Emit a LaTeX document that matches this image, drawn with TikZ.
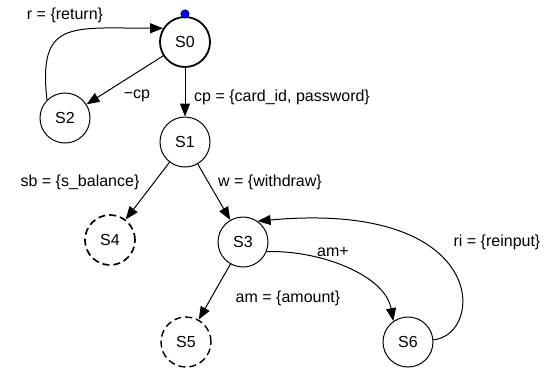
\documentclass[tikz,border=0pt]{standalone}
\usepackage{fontspec}
\setmainfont{Liberation Sans}
\usetikzlibrary{arrows.meta,positioning}

\tikzset{
  state/.style={draw, circle, minimum size=50pt, inner sep=0pt, line width=1pt},
  startstate/.style={state, line width=1.8pt},
  endstate/.style={state, dashed, dash pattern=on 7pt off 4pt, line width=1.7pt},
  edgelabel/.style={inner sep=1pt},
  trans/.style={->, line width=1pt}
}

\begin{document}
\begin{tikzpicture}[x=1pt, y=-1pt, on grid,
  >={Triangle[length=13pt,width=10pt]},
  font=\fontsize{16}{18}\selectfont]
\useasboundingbox (0,0) rectangle (550,368);

\node (S0)[startstate] at (185,42) {S0};
\node (S1)[state] [below=100pt of S0] {S1};
\node (S2)[state] [below left=76pt and 120pt of S0] {S2};
\node (S4)[endstate] [below left=98pt and 75pt of S1] {S4};
\node (S3)[state] [below right=100pt and 58pt of S1] {S3};
\node (S5)[endstate, line width=1.4pt] [below left=100pt and 57pt of S3] {S5};
\node (S6)[state] [below right=100pt and 165pt of S3] {S6};
\node (init)[circle, fill=blue, draw=blue!40!black, line width=1pt, minimum size=8pt, inner sep=0pt] [above=28pt of S0] {};

% transitions
\draw[trans] (S0) -- (S2);
\draw[trans] (S0) -- (S1);
\draw[trans] (S1) -- (S4);
\draw[trans] (S1) -- (S3);
\draw[trans] (S3) -- (S5);
\draw[trans] (S2.135) .. controls (38,20) and (70,28) .. (S0.148);
\draw[trans] (S3.-22) .. controls (320,250) and (385,275) .. (S6.125);
\draw[trans] (S6.5) .. controls (485,335) and (490,200) .. (S3.55);

% labels
\node (lr)[edgelabel] at (65,15) {r = \{return\}};
\node (lncp)[edgelabel] at (137,96) {−cp};
\node (lcp)[edgelabel, anchor=west] at (193,97) {cp = \{card\_id, password\}};
\node (lsb)[edgelabel] at (80,182) {sb = \{s\_balance\}};
\node (lw)[edgelabel] at (270,182) {w = \{withdraw\}};
\node (lamp)[edgelabel] at (333,252) {am+};
\node (lam)[edgelabel] at (288,298) {am = \{amount\}};
\node (lri)[edgelabel] at (497,242) {ri = \{reinput\}};
\end{tikzpicture}
\end{document}
